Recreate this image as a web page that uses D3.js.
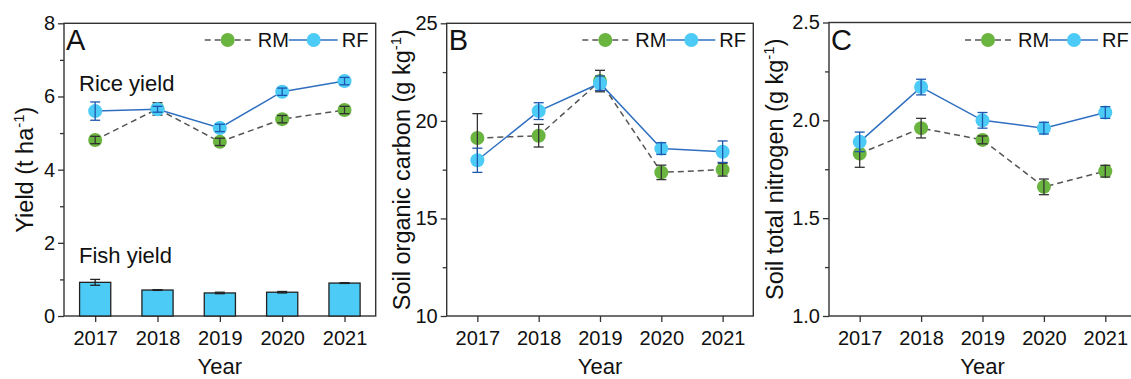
<!DOCTYPE html>
<html><head><meta charset="utf-8">
<script src="https://cdn.jsdelivr.net/npm/d3@7"></script>
<style>body{margin:0;background:#fff}svg{display:block}text{font-family:"Liberation Sans",Arial,sans-serif;fill:#111}</style>
</head><body><svg id="c" width="1131" height="379"></svg>
<script>
const years = ["2017","2018","2019","2020","2021"];
// Panel A: rice yield (t/ha)
const riceRM = [4.81, 5.66, 4.76, 5.38, 5.63];
const riceRMErr = [0.10, 0.17, 0.10, 0.10, 0.10];
const riceRF = [5.60, 5.65, 5.14, 6.13, 6.42];
const riceRFErr = [0.25, 0.08, 0.10, 0.10, 0.10];
// Fish yield (t/ha)
const fish = [0.92, 0.71, 0.63, 0.65, 0.90];
const fishErr = [0.08, 0.01, 0.02, 0.02, 0.01];
// Panel B: soil organic carbon
const socRM = [19.12, 19.24, 22.04, 17.36, 17.50];
const socRMErr = [1.25, 0.58, 0.55, 0.37, 0.33];
const socRF = [17.98, 20.50, 21.93, 18.58, 18.42];
const socRFErr = [0.62, 0.43, 0.37, 0.30, 0.55];
// Panel C: soil total nitrogen
const tnRM = [1.83, 1.96, 1.90, 1.66, 1.74];
const tnRMErr = [0.07, 0.05, 0.02, 0.04, 0.03];
const tnRF = [1.89, 2.17, 2.00, 1.96, 2.04];
const tnRFErr = [0.05, 0.04, 0.04, 0.03, 0.03];
// tick labels
const ticksA = [0,2,4,6,8], minorA = [1,3,5,7];
const ticksB = [10,15,20,25], minorB = [12.5,17.5,22.5];
const ticksC = [1.0,1.5,2.0,2.5], minorC = [1.25,1.75,2.25];

const GREEN = "#6ab440", LBLUE = "#4ccbf6", LINE = "#2f6fc0", EBLUE = "#1d57b0", DARK = "#333";
const svg = d3.select("#c");

function panel(o){
  const g = svg.append("g");
  const x = d3.scalePoint().domain(years).range([o.left, o.right]).padding(0.5);
  const y = d3.scaleLinear().domain(o.domain).range([316, o.top]);
  g.append("rect").attr("x", o.left).attr("y", o.top).attr("width", o.right-o.left).attr("height", 316-o.top)
    .attr("fill","none").attr("stroke", DARK).attr("stroke-width", 1.4);
  const ya = g.append("g").attr("transform", `translate(${o.left},0)`)
    .call(d3.axisLeft(y).tickValues(o.ticks).tickSize(6).tickPadding(3).tickFormat(o.fmt));
  ya.select(".domain").remove();
  ya.selectAll("line").attr("stroke", DARK).attr("stroke-width",1.3);
  ya.selectAll("text").attr("font-size", 20).style("fill","#111");
  const ym = g.append("g").attr("transform", `translate(${o.left},0)`)
    .call(d3.axisLeft(y).tickValues(o.minor).tickSize(4).tickFormat(""));
  ym.select(".domain").remove();
  ym.selectAll("line").attr("stroke", DARK).attr("stroke-width",1.3);
  const xa = g.append("g").attr("transform", `translate(0,316)`)
    .call(d3.axisBottom(x).tickSize(6).tickPadding(9));
  xa.select(".domain").remove();
  xa.selectAll("line").attr("stroke", DARK).attr("stroke-width",1.3);
  xa.selectAll("text").attr("font-size", 20).style("fill","#111");
  g.append("text").attr("x", (o.left+o.right)/2).attr("y", 374).attr("text-anchor","middle")
    .attr("font-size", 22).text("Year");
  const t = g.append("text").attr("transform", `translate(${o.titleX},${(316+o.top)/2}) rotate(-90)`)
    .attr("text-anchor","middle").attr("font-size", 23.5);
  t.append("tspan").text(o.title);
  t.append("tspan").attr("font-size", 15).attr("dy", -9).text("-1");
  t.append("tspan").attr("dy", 9).text(")");
  g.append("text").attr("x", o.left+2).attr("y", 50).attr("font-size", 29).text(o.letter);
  const R = o.right, ly = 40;
  g.append("line").attr("x1", R-171).attr("x2", R-125).attr("y1", ly).attr("y2", ly)
    .attr("stroke","#555").attr("stroke-width",1.5).attr("stroke-dasharray","6,4");
  g.append("circle").attr("cx", R-148).attr("cy", ly).attr("r", 7).attr("fill", GREEN);
  g.append("text").attr("x", R-118).attr("y", ly+7.2).attr("font-size", 20).text("RM");
  g.append("line").attr("x1", R-87).attr("x2", R-38).attr("y1", ly).attr("y2", ly)
    .attr("stroke", LINE).attr("stroke-width",1.5);
  g.append("circle").attr("cx", R-62).attr("cy", ly).attr("r", 7).attr("fill", LBLUE);
  g.append("text").attr("x", R-34).attr("y", ly+7.2).attr("font-size", 20).text("RF");
  return {g, x, y};
}

function series(p, vals, errs, opt){
  const {g, x, y} = p;
  const pts = years.map((d,i)=>({d, v: vals[i], e: errs[i]}));
  g.append("path").datum(pts)
    .attr("d", d3.line().x(d=>x(d.d)).y(d=>y(d.v)))
    .attr("fill","none").attr("stroke", opt.line).attr("stroke-width",1.5)
    .attr("stroke-dasharray", opt.dash || null);
  g.append("g").selectAll("circle").data(pts).join("circle")
    .attr("cx", d=>x(d.d)).attr("cy", d=>y(d.v)).attr("r", 7).attr("fill", opt.fill);
  const eb = g.append("g").attr("stroke", opt.err).attr("stroke-width",1.3).attr("fill","none");
  pts.forEach(d=>{
    const cx = x(d.d), y1 = y(d.v+d.e), y2 = y(d.v-d.e);
    eb.append("line").attr("x1",cx).attr("x2",cx).attr("y1",y1).attr("y2",y2);
    eb.append("line").attr("x1",cx-5).attr("x2",cx+5).attr("y1",y1).attr("y2",y1);
    eb.append("line").attr("x1",cx-5).attr("x2",cx+5).attr("y1",y2).attr("y2",y2);
  });
}

// Panel A
const A = panel({left:64, right:375.7, top:23.3, domain:[0,8], ticks:ticksA, minor:minorA,
  fmt:d3.format("d"), title:"Yield (t ha", titleX:33, letter:"A"});
const band = d3.scaleBand().domain(years).range([64, 375.7]).paddingInner(0.5).paddingOuter(0.25);
A.g.append("g").selectAll("rect").data(years).join("rect")
  .attr("x", d=>band(d)).attr("width", band.bandwidth())
  .attr("y", (d,i)=>A.y(fish[i])).attr("height", (d,i)=>316-A.y(fish[i]))
  .attr("fill", LBLUE).attr("stroke", "#222").attr("stroke-width", 1.3);
const fe = A.g.append("g").attr("stroke","#222").attr("stroke-width",1.3);
years.forEach((d,i)=>{
  const cx = A.x(d), y1 = A.y(fish[i]+fishErr[i]), y2 = A.y(fish[i]-fishErr[i]);
  fe.append("line").attr("x1",cx).attr("x2",cx).attr("y1",y1).attr("y2",y2);
  fe.append("line").attr("x1",cx-5).attr("x2",cx+5).attr("y1",y1).attr("y2",y1);
  fe.append("line").attr("x1",cx-5).attr("x2",cx+5).attr("y1",y2).attr("y2",y2);
});
A.g.append("text").attr("x",79).attr("y",90.7).attr("font-size",22).text("Rice yield");
A.g.append("text").attr("x",79).attr("y",262.7).attr("font-size",22).text("Fish yield");
series(A, riceRM, riceRMErr, {line:"#555", dash:"6,4", fill:GREEN, err:DARK});
series(A, riceRF, riceRFErr, {line:LINE, fill:LBLUE, err:EBLUE});

// Panel B
const B = panel({left:446.7, right:753.3, top:23.3, domain:[10,25], ticks:ticksB, minor:minorB,
  fmt:d3.format("d"), title:"Soil organic carbon (g kg", titleX:410, letter:"B"});
series(B, socRM, socRMErr, {line:"#555", dash:"6,4", fill:GREEN, err:DARK});
series(B, socRF, socRFErr, {line:LINE, fill:LBLUE, err:EBLUE});

// Panel C
const C = panel({left:829, right:1136, top:22.5, domain:[1,2.5], ticks:ticksC, minor:minorC,
  fmt:d3.format(".1f"), title:"Soil total nitrogen (g kg", titleX:783, letter:"C"});
series(C, tnRM, tnRMErr, {line:"#555", dash:"6,4", fill:GREEN, err:DARK});
series(C, tnRF, tnRFErr, {line:LINE, fill:LBLUE, err:EBLUE});
</script></body></html>
